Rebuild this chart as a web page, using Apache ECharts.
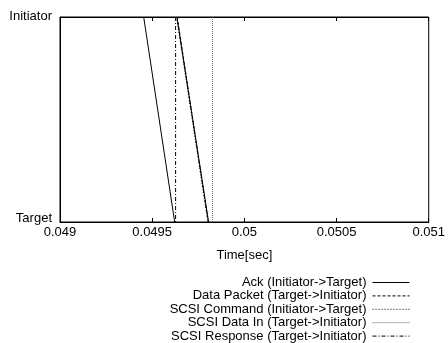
<!DOCTYPE html>
<html>
<head>
<meta charset="utf-8">
<script src="https://cdn.jsdelivr.net/npm/echarts@6/dist/echarts.min.js"></script>
<style>
html,body{margin:0;padding:0;background:#fff}
#chart{width:448px;height:343px}
</style>
</head>
<body>
<div id="chart"></div>
<script>
// tick labels
const xTicks = ['0.049', '0.0495', '0.05', '0.0505', '0.051']
const yNames = ['Target', 'Initiator']

// segments [x, y] (y: 1 = Initiator, 0 = Target), null splits segments
const ack = [[0.049454, 1], [0.049622, 0], null, [0.049634, 1], [0.049806, 0]]
const dataPacket = [[0.049636, 1], [0.049804, 0]]
const scsiCommand = [[0.049632, 1], [0.049802, 0]]
const scsiDataIn = [[0.049827, 1], [0.049827, 0]]
const scsiResponse = [[0.049627, 1], [0.049627, 0]]

const names = [
  'Ack (Initiator->Target)',
  'Data Packet (Target->Initiator)',
  'SCSI Command (Initiator->Target)',
  'SCSI Data In (Target->Initiator)',
  'SCSI Response (Target->Initiator)'
]

const font = 'Liberation Sans, Arial, sans-serif'

function mk (name, data, type, color) {
  return {
    name,
    type: 'line',
    data: data.map(p => p || [null, null]),
    symbol: 'none',
    connectNulls: false,
    animation: false,
    lineStyle: { color: color || '#000', width: 1, type },
    itemStyle: { color: color || '#000' }
  }
}

const chart = echarts.init(document.getElementById('chart'))
chart.setOption({
  backgroundColor: '#fff',
  grid: { left: 60, right: 18, top: 17, bottom: 121, show: true, borderColor: '#000', borderWidth: 1 },
  legend: {
    orient: 'vertical',
    right: 38,
    top: 276,
    padding: 0,
    align: 'right',
    itemWidth: 37,
    itemHeight: 6,
    itemGap: 0.4,
    itemStyle: { opacity: 0 },
    lineStyle: { width: 1 },
    textStyle: { fontFamily: font, fontSize: 13, color: '#000', padding: [0, 1, 0, 0] },
    data: names
  },
  xAxis: [{
    type: 'value',
    min: 0.049,
    max: 0.051,
    interval: 0.0005,
    name: 'Time[sec]',
    nameLocation: 'middle',
    nameGap: 27,
    nameTextStyle: { fontFamily: font, fontSize: 13, color: '#000' },
    axisLine: { show: true, lineStyle: { color: '#000' } },
    axisTick: { inside: true, length: 4, lineStyle: { color: '#000' } },
    axisLabel: {
      fontFamily: font, fontSize: 13, color: '#000', margin: 4,
      formatter: v => xTicks[Math.round((v - 0.049) / 0.0005)]
    },
    splitLine: { show: false }
  }, {
    type: 'value',
    position: 'top',
    min: 0.049,
    max: 0.051,
    interval: 0.0005,
    axisLine: { show: true, lineStyle: { color: '#000' } },
    axisTick: { inside: true, length: 4, lineStyle: { color: '#000' } },
    axisLabel: { show: false },
    splitLine: { show: false }
  }],
  yAxis: {
    type: 'value',
    min: 0,
    max: 1,
    interval: 1,
    axisLine: { show: true, lineStyle: { color: '#000' } },
    axisTick: { show: false },
    axisLabel: {
      fontFamily: font, fontSize: 13, color: '#000', margin: 8,
      formatter: v => v === 0 ? '{t|' + yNames[0] + '}' : '{i|' + yNames[1] + '}',
      rich: {
        t: { fontFamily: font, fontSize: 13, color: '#000', padding: [0, 0, 8, 0] },
        i: { fontFamily: font, fontSize: 13, color: '#000', padding: [0, 0, 2, 0] }
      }
    },
    splitLine: { show: false }
  },
  series: [
    mk(names[0], ack, 'solid'),
    mk(names[1], dataPacket, [3, 2]),
    mk(names[2], scsiCommand, [1, 2]),
    mk(names[3], scsiDataIn, [1, 1], '#666'),
    mk(names[4], scsiResponse, [4, 2, 1, 2])
  ]
})
</script>
</body>
</html>
